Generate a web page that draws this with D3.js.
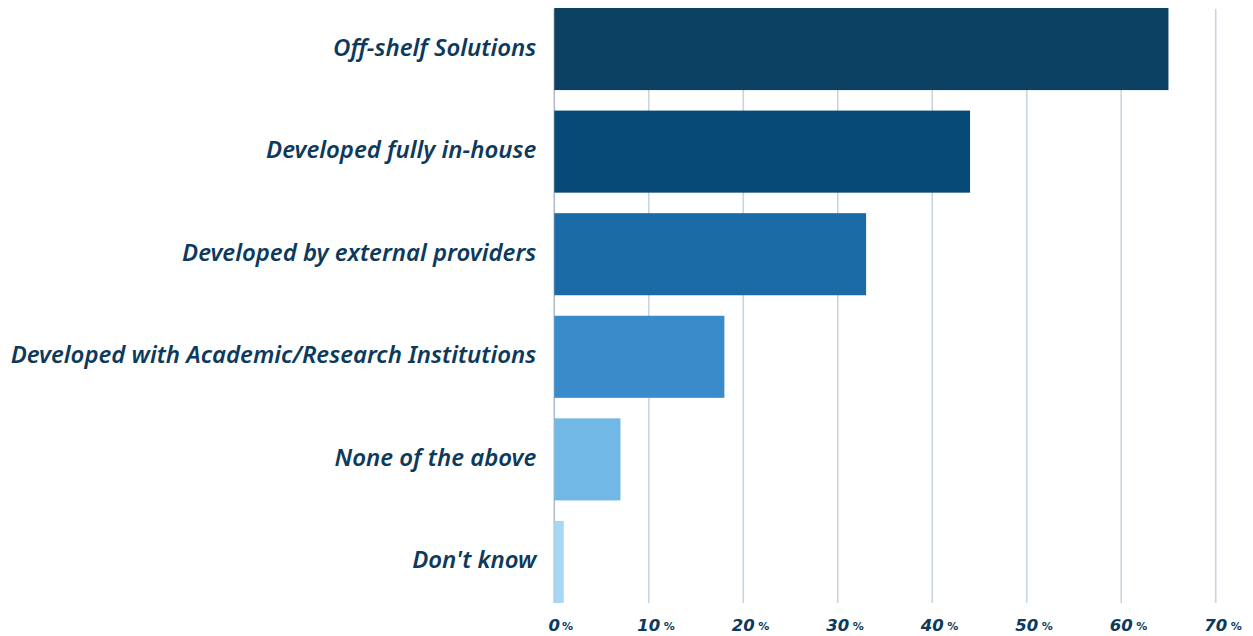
<!DOCTYPE html>
<html>
<head>
<meta charset="utf-8">
<script src="https://cdn.jsdelivr.net/npm/d3@7"></script>
<style>
  html, body { margin: 0; padding: 0; background: #ffffff; }
  svg { display: block; }
  .lbl { font-family: "Noto Sans", "Open Sans", sans-serif; font-style: italic; font-weight: 600; fill: #0d3a5c; }
  .tick-num { font-family: "DejaVu Sans", sans-serif; font-style: italic; font-weight: 700; fill: #0d3a5c; }
  .tick-pct { font-family: "DejaVu Sans", sans-serif; font-weight: 600; fill: #0d3a5c; }
</style>
</head>
<body>
<svg id="chart" width="1253" height="636"></svg>
<script>
// Survey answers, top to bottom
const categories = [
  "Off-shelf Solutions",
  "Developed fully in-house",
  "Developed by external providers",
  "Developed with Academic/Research Institutions",
  "None of the above",
  "Don't know"
];
// Share of respondents (%)
const values = [65, 44, 33, 18, 7, 1];
const barColors = ["#0c4163", "#074a77", "#1b6ba7", "#3a8bca", "#72b8e6", "#a6d7f3"];
const tickValues = [0, 10, 20, 30, 40, 50, 60, 70];

const svg = d3.select("#chart");
const plotLeft = 554.3, plotRight = 1215.7, plotTop = 8, plotBottom = 603;

const x = d3.scaleLinear().domain([0, 70]).range([plotLeft, plotRight]);
const y = d3.scaleBand().domain(categories).range([plotTop, plotBottom]).paddingInner(0.2).paddingOuter(0);

// vertical gridlines
svg.append("g").selectAll("line")
  .data(tickValues)
  .join("line")
  .attr("x1", d => x(d)).attr("x2", d => x(d))
  .attr("y1", plotTop + 1).attr("y2", plotBottom)
  .attr("stroke", d => d === 0 ? "#aebccb" : "#c9d5df")
  .attr("stroke-width", 1.6);

// bars
svg.append("g").selectAll("rect")
  .data(categories)
  .join("rect")
  .attr("x", x(0))
  .attr("y", d => y(d))
  .attr("width", (d, i) => x(values[i]) - x(0))
  .attr("height", y.bandwidth())
  .attr("fill", (d, i) => barColors[i]);

// category labels, right-aligned against the axis
const labels = svg.append("g").selectAll("text")
  .data(categories)
  .join("text")
  .attr("class", "lbl")
  .attr("x", plotLeft - 18)
  .attr("y", d => y(d) + y.bandwidth() / 2 + 6.5)
  .attr("text-anchor", "end")
  .style("font-size", "20px")
  .text(d => d);

// fit the longest label to its available width
let maxW = 0;
labels.each(function () { maxW = Math.max(maxW, this.getComputedTextLength()); });
const fs = 20 * 526 / maxW;
labels.style("font-size", fs + "px");

// x-axis tick labels: number centred on tick, small % after it
const tk = svg.append("g").selectAll("g")
  .data(tickValues)
  .join("g")
  .attr("transform", d => `translate(${x(d)},631)`);
tk.append("text")
  .attr("class", "tick-num")
  .attr("text-anchor", "middle")
  .style("font-size", "16.5px")
  .text(d => d);
tk.each(function (d) {
  const g = d3.select(this);
  const w = g.select("text").node().getComputedTextLength();
  g.append("text")
    .attr("class", "tick-pct")
    .attr("x", w / 2 + (d === 0 ? 2 : 3.5))
    .attr("y", -1)
    .style("font-size", "11px")
    .text("%");
});
</script>
</body>
</html>
